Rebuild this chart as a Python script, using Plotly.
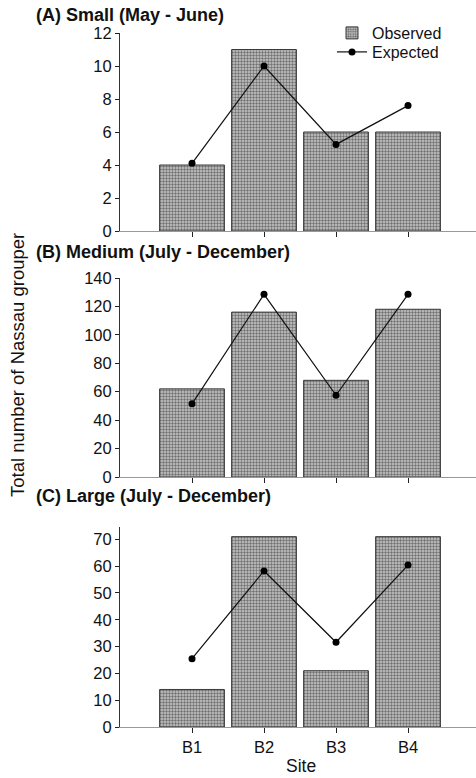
import plotly.graph_objects as go

sites = ["B1", "B2", "B3", "B4"]
positions = [0, 1, 2, 3]

observed_small = [4, 11, 6, 6]
expected_small = [4.1, 10.0, 5.25, 7.6]

observed_medium = [62, 116, 68, 118]
expected_medium = [51.5, 128.5, 57.5, 128.5]

observed_large = [14, 71, 21, 71]
expected_large = [25.5, 58.2, 31.6, 60.4]

panel_titles = ["(A) Small (May - June)", "(B) Medium (July - December)", "(C) Large (July - December)"]
y_ranges = [[0, 12], [0, 140], [0, 74.6]]
y_dticks = [2, 20, 10]
y_maxtick = [12, 140, 70]

W, H = 476, 778
ML, MR, MT, MB = 120, 0, 33, 51
plot_h = H - MT - MB
plot_w = W - ML - MR

# panel extents in pixels (top, bottom)
panels_px = [(33, 231), (278, 477), (527, 727)]


def py_to_paper(py):
    return (H - MB - py) / plot_h


def px_to_paper(px):
    return (px - ML) / plot_w


fig = go.Figure()

data = [
    (observed_small, expected_small),
    (observed_medium, expected_medium),
    (observed_large, expected_large),
]

bar_style = dict(
    color="#b4b4b4",
    line=dict(color="#3a3a3a", width=1),
    pattern=dict(shape=".", size=3, solidity=0.5, fgcolor="#707070", bgcolor="#cacaca", fillmode="replace"),
)

for i, (obs, exp) in enumerate(data):
    xa = "x" if i == 0 else f"x{i + 1}"
    ya = "y" if i == 0 else f"y{i + 1}"
    fig.add_trace(go.Bar(
        x=positions, y=obs, width=0.9, marker=bar_style,
        name="Observed", showlegend=(i == 0), legend="legend",
        xaxis=xa, yaxis=ya,
    ))
    fig.add_trace(go.Scatter(
        x=positions, y=exp, mode="lines+markers",
        line=dict(color="#111111", width=1.2),
        marker=dict(color="#000000", size=7),
        name="Expected", showlegend=(i == 0), legend="legend2",
        xaxis=xa, yaxis=ya,
    ))

tick_font = dict(family="Liberation Sans, Arial, sans-serif", size=16.5, color="#111111")
legend_common = dict(
    xanchor="left", yanchor="middle",
    bgcolor="rgba(0,0,0,0)", font=dict(size=16, color="#111111"),
    itemwidth=30, tracegroupgap=0,
)

layout = dict(
    width=W, height=H,
    margin=dict(l=ML, r=MR, t=MT, b=MB),
    paper_bgcolor="white", plot_bgcolor="white",
    bargap=0.1,
    font=dict(family="Liberation Sans, Arial, sans-serif", color="#111111"),
    legend=dict(x=px_to_paper(332), y=py_to_paper(33), **legend_common),
    legend2=dict(x=px_to_paper(332), y=py_to_paper(52), **legend_common),
)

for i in range(3):
    top, bot = panels_px[i]
    sfx = "" if i == 0 else str(i + 1)
    layout[f"xaxis{sfx}"] = dict(
        domain=[0, 1], range=[-1, 3.944], anchor=f"y{sfx}",
        tickvals=positions, ticktext=sites if i == 2 else ["", "", "", ""],
        ticks="outside", ticklen=5, tickcolor="#222222", tickwidth=1,
        showline=True, linecolor="#999999", linewidth=1,
        showgrid=False, zeroline=False, tickfont=tick_font,
    )
    layout[f"yaxis{sfx}"] = dict(
        domain=[py_to_paper(bot), py_to_paper(top)], range=y_ranges[i], anchor=f"x{sfx}",
        tickvals=list(range(0, y_maxtick[i] + 1, y_dticks[i])),
        ticks="outside", ticklen=4, tickcolor="#222222", tickwidth=1,
        showline=True, linecolor="#333333", linewidth=1,
        showgrid=False, zeroline=False, tickfont=tick_font,
    )

fig.update_layout(**layout)

title_y = [15, 252, 496]
for i, t in enumerate(panel_titles):
    fig.add_annotation(
        text=f"<b>{t}</b>", xref="paper", yref="paper",
        x=px_to_paper(34), y=py_to_paper(title_y[i]),
        xanchor="left", yanchor="middle", showarrow=False,
        font=dict(size=18, color="#111111"),
    )

fig.add_annotation(
    text="Total number of Nassau grouper", xref="paper", yref="paper",
    x=px_to_paper(18), y=py_to_paper(365), textangle=-90,
    xanchor="center", yanchor="middle", showarrow=False,
    font=dict(size=18.5, color="#111111"),
)
fig.add_annotation(
    text="Site", xref="paper", yref="paper",
    x=px_to_paper(301), y=py_to_paper(766),
    xanchor="center", yanchor="middle", showarrow=False,
    font=dict(size=17.5, color="#111111"),
)

fig.write_html("out.html")
